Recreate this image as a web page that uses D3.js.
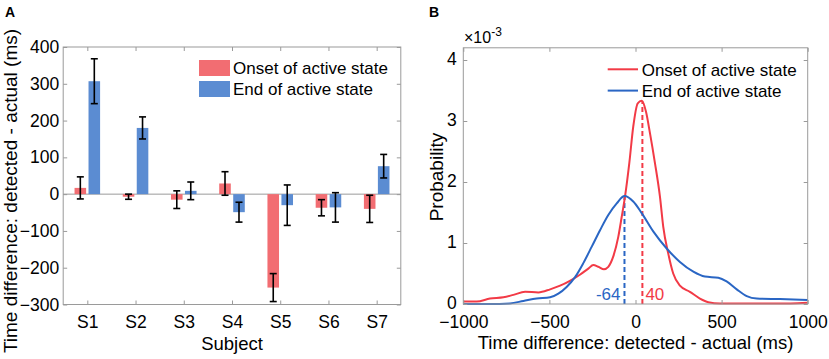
<!DOCTYPE html>
<html>
<head>
<meta charset="utf-8">
<script src="https://cdn.jsdelivr.net/npm/d3@7"></script>
<style>
  html, body { margin: 0; padding: 0; background: #fff; }
  svg { display: block; font-family: "Liberation Sans", Arial, sans-serif; }
</style>
</head>
<body>
<svg id="chart" width="829" height="359"></svg>
<script>
// ---------- Panel A data ----------
const subjects = ["S1", "S2", "S3", "S4", "S5", "S6", "S7"];
const onsetMean = [17, -7, -15, 29, -254, -37, -40];
const onsetErr  = [30, 7, 24, 32, 38, 22, 37];
const endMean   = [307, 180, 9, -49, -30, -36, 76];
const endErr    = [61, 30, 24, 27, 55, 40, 32];
const yTicksA   = [-300, -200, -100, 0, 100, 200, 300, 400];
const seriesNames = ["Onset of active state", "End of active state"];

// ---------- Panel B data ----------
const onsetX = [-1000,-922,-845,-767,-709,-641,-564,-496,-438,-381,-323,-274,-245,-216,-183,-158,-129,-100,-80,-61,-36,-13,13,36,61,84,113,142,161,190,219,258,316,374,423,490,600,700,800,900,1000];
const onsetP = [0.04,0.04,0.09,0.11,0.15,0.2,0.19,0.24,0.3,0.38,0.48,0.58,0.64,0.61,0.57,0.61,0.78,1.1,1.43,1.76,2.31,2.91,3.29,3.33,3.15,2.8,2.31,1.76,1.27,0.83,0.5,0.3,0.2,0.09,0.03,0.01,0.01,0.01,0.01,0.01,0.02];
const endX = [-1000,-850,-729,-651,-574,-496,-448,-400,-351,-303,-254,-206,-158,-109,-64,-13,36,103,181,258,336,403,481,529,588,646,704,839,1000];
const endP = [0.0,0.0,0.01,0.05,0.09,0.11,0.17,0.28,0.44,0.67,0.94,1.21,1.46,1.65,1.77,1.68,1.49,1.19,0.91,0.69,0.53,0.45,0.43,0.37,0.24,0.13,0.09,0.08,0.065];
const medianX = [40, -64];      // onset, end
const medianP = [3.33, 1.77];
const medianLabels = ["40", "-64"];
const xTicksB = [-1000, -500, 0, 500, 1000];
const yTicksB = [0, 1, 2, 3, 4];

// ---------- styles ----------
const barColors  = ["#F26D72", "#5B8CD2"];
const lineColors = ["#F23A46", "#2A66C4"];
const axisGray = "#9a9a9a";
const tickFont = 17.5;

const svg = d3.select("#chart");

function styleAxis(g) {
  g.select(".domain").remove();
  g.selectAll(".tick line").attr("stroke", axisGray);
  g.selectAll(".tick text").attr("fill", "#000").style("font-size", tickFont + "px");
}

// ================= Panel A =================
const xA = d3.scaleLinear().domain([0.5, 7.5]).range([63.2, 400.8]);
const yA = d3.scaleLinear().domain([-300, 400]).range([304.5, 47]);
const A = svg.append("g");

// zero line
A.append("line").attr("x1", xA(0.5)).attr("x2", xA(7.5))
  .attr("y1", yA(0)).attr("y2", yA(0)).attr("stroke", axisGray).attr("stroke-width", 1);

const barW = 0.24, off = 0.145;
const seriesA = [
  {mean: onsetMean, err: onsetErr, o: -off, c: barColors[0]},
  {mean: endMean, err: endErr, o: off, c: barColors[1]}
];
seriesA.forEach(s => {
  const idx = d3.range(subjects.length);
  A.selectAll(null).data(idx).enter().append("rect")
    .attr("x", i => xA(i + 1 + s.o - barW / 2))
    .attr("width", xA(barW) - xA(0))
    .attr("y", i => yA(Math.max(0, s.mean[i])))
    .attr("height", i => Math.abs(yA(s.mean[i]) - yA(0)))
    .attr("fill", s.c);
});
// error bars
seriesA.forEach(s => {
  const idx = d3.range(subjects.length);
  const eg = A.selectAll(null).data(idx).enter().append("g")
    .attr("stroke", "#000").attr("stroke-width", 1.6);
  const cx = i => xA(i + 1 + s.o);
  eg.append("line").attr("x1", cx).attr("x2", cx)
    .attr("y1", i => yA(s.mean[i] + s.err[i])).attr("y2", i => yA(s.mean[i] - s.err[i]));
  eg.append("line").attr("x1", i => cx(i) - 3.5).attr("x2", i => cx(i) + 3.5)
    .attr("y1", i => yA(s.mean[i] + s.err[i])).attr("y2", i => yA(s.mean[i] + s.err[i]));
  eg.append("line").attr("x1", i => cx(i) - 3.5).attr("x2", i => cx(i) + 3.5)
    .attr("y1", i => yA(s.mean[i] - s.err[i])).attr("y2", i => yA(s.mean[i] - s.err[i]));
});

// axes A
const subjPos = subjects.map((d, i) => i + 1);
A.append("g").attr("transform", `translate(0,${yA(-300)})`)
  .call(d3.axisBottom(xA).tickValues(subjPos).tickFormat((d, i) => subjects[i])
        .tickSizeInner(-4).tickSizeOuter(0).tickPadding(11))
  .call(styleAxis);
A.append("g").attr("transform", `translate(0,${yA(400)})`)
  .call(d3.axisTop(xA).tickValues(subjPos).tickFormat("").tickSizeInner(-4).tickSizeOuter(0))
  .call(styleAxis);
A.append("g").attr("transform", `translate(${xA(0.5)},0)`)
  .call(d3.axisLeft(yA).tickValues(yTicksA).tickFormat(d3.format("d"))
        .tickSizeInner(-4).tickSizeOuter(0).tickPadding(4))
  .call(styleAxis);
A.append("g").attr("transform", `translate(${xA(7.5)},0)`)
  .call(d3.axisRight(yA).tickValues(yTicksA).tickFormat("").tickSizeInner(-4).tickSizeOuter(0))
  .call(styleAxis);
A.append("rect").attr("x", xA(0.5)).attr("y", yA(400))
  .attr("width", xA(7.5) - xA(0.5)).attr("height", yA(-300) - yA(400))
  .attr("fill", "none").attr("stroke", axisGray).attr("stroke-width", 1);

// labels A
A.append("text").attr("x", (xA(0.5) + xA(7.5)) / 2).attr("y", 349.5)
  .attr("text-anchor", "middle").style("font-size", "18.5px").text("Subject");
A.append("text").attr("transform", `translate(17,191) rotate(-90)`)
  .attr("text-anchor", "middle").style("font-size", "19px")
  .text("Time difference: detected - actual (ms)");
A.append("text").attr("x", 5).attr("y", 17).style("font-size", "14px")
  .style("font-weight", "bold").text("A");

// legend A
seriesNames.forEach((n, i) => {
  A.append("rect").attr("x", 199).attr("y", 60 + i * 21).attr("width", 31).attr("height", 16)
    .attr("fill", barColors[i]);
  A.append("text").attr("x", 233).attr("y", 74 + i * 21).style("font-size", "17px").text(n);
});

// ================= Panel B =================
const xB = d3.scaleLinear().domain([-1000, 1000]).range([463.3, 807.7]);
const yB = d3.scaleLinear().domain([0, 4.2]).range([304, 47.8]);
const B = svg.append("g");

const line = d3.line().x(d => xB(d[0])).y(d => yB(d[1])).curve(d3.curveMonotoneX);
const curves = [d3.zip(onsetX, onsetP), d3.zip(endX, endP)];

// dashed median lines
medianX.forEach((m, i) => {
  B.append("line").attr("x1", xB(m)).attr("x2", xB(m))
    .attr("y1", yB(0)).attr("y2", yB(medianP[i]))
    .attr("stroke", lineColors[i]).attr("stroke-width", 2).attr("stroke-dasharray", "5,3");
});
curves.forEach((c, i) => {
  B.append("path").datum(c).attr("d", line).attr("fill", "none")
    .attr("stroke", lineColors[i]).attr("stroke-width", 2);
});
// median labels
B.append("text").attr("x", xB(medianX[0]) + 3).attr("y", 300).attr("fill", lineColors[0])
  .style("font-size", "17px").text(medianLabels[0]);
B.append("text").attr("x", xB(medianX[1]) - 4).attr("y", 300).attr("fill", lineColors[1])
  .attr("text-anchor", "end").style("font-size", "17px").text(medianLabels[1]);

// axes B
B.append("g").attr("transform", `translate(0,${yB(0)})`)
  .call(d3.axisBottom(xB).tickValues(xTicksB).tickFormat(d3.format("d"))
        .tickSizeInner(-4).tickSizeOuter(0).tickPadding(11.5))
  .call(styleAxis);
B.append("g").attr("transform", `translate(0,${yB(4.2)})`)
  .call(d3.axisTop(xB).tickValues(xTicksB).tickFormat("").tickSizeInner(-4).tickSizeOuter(0))
  .call(styleAxis);
B.append("g").attr("transform", `translate(${xB(-1000)},0)`)
  .call(d3.axisLeft(yB).tickValues(yTicksB).tickFormat(d3.format("d"))
        .tickSizeInner(-4).tickSizeOuter(0).tickPadding(6.5))
  .call(styleAxis)
  .call(g => g.selectAll(".tick text").attr("dy", "0.27em"));
B.append("g").attr("transform", `translate(${xB(1000)},0)`)
  .call(d3.axisRight(yB).tickValues(yTicksB).tickFormat("").tickSizeInner(-4).tickSizeOuter(0))
  .call(styleAxis);
B.append("rect").attr("x", xB(-1000)).attr("y", yB(4.2))
  .attr("width", xB(1000) - xB(-1000)).attr("height", yB(0) - yB(4.2))
  .attr("fill", "none").attr("stroke", axisGray).attr("stroke-width", 1);

// exponent label
const ex = B.append("text").attr("x", 464).attr("y", 43).style("font-size", "16px");
ex.append("tspan").text("\u00D710");
ex.append("tspan").attr("dy", -7).style("font-size", "12px").text("-3");

// labels B
B.append("text").attr("x", (xB(-1000) + xB(1000)) / 2).attr("y", 349)
  .attr("text-anchor", "middle").style("font-size", "18.5px")
  .text("Time difference: detected - actual (ms)");
B.append("text").attr("transform", `translate(443,177) rotate(-90)`)
  .attr("text-anchor", "middle").style("font-size", "19px").text("Probability");
B.append("text").attr("x", 429).attr("y", 17).style("font-size", "14px")
  .style("font-weight", "bold").text("B");

// legend B
seriesNames.forEach((n, i) => {
  B.append("line").attr("x1", 607.7).attr("x2", 638).attr("y1", 69.3 + i * 21.3).attr("y2", 69.3 + i * 21.3)
    .attr("stroke", lineColors[i]).attr("stroke-width", 2);
  B.append("text").attr("x", 641.7).attr("y", 75.5 + i * 21.3).style("font-size", "17px").text(n);
});
</script>
</body>
</html>
